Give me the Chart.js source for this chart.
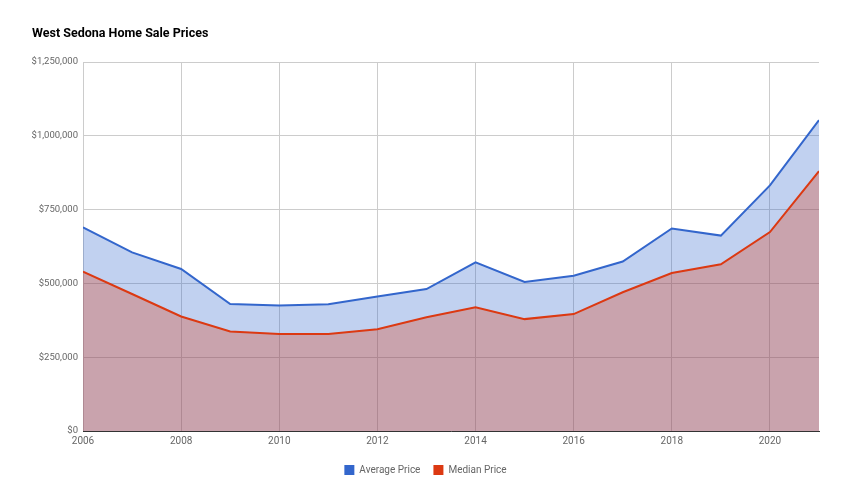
<!DOCTYPE html>
<html>
<head>
<meta charset="utf-8">
<script src="https://cdn.jsdelivr.net/npm/chart.js@4"></script>
<style>
  html, body { margin: 0; padding: 0; background: #fff; }
  #wrap { width: 850px; height: 500px; }
</style>
</head>
<body>
<div id="wrap"><canvas id="c" width="850" height="500"></canvas></div>
<script>
const years = [2006, 2007, 2008, 2009, 2010, 2011, 2012, 2013, 2014, 2015, 2016, 2017, 2018, 2019, 2020, 2021];
const averagePrice = [690000, 605000, 549000, 430000, 425000, 429000, 456000, 481000, 571000, 505000, 526000, 574000, 686000, 662000, 832000, 1053000];
const medianPrice = [540000, 464000, 388000, 337000, 329000, 329000, 345000, 385000, 419000, 379000, 396000, 470000, 535000, 565000, 674000, 880000];
const xTickValues = [2006, 2008, 2010, 2012, 2014, 2016, 2018, 2020];
const yTickValues = [0, 250000, 500000, 750000, 1000000, 1250000];

const toPoints = (arr) => arr.map((v, i) => ({ x: years[i], y: v }));
const FONT = 'Roboto';

new Chart(document.getElementById('c'), {
  type: 'line',
  data: {
    datasets: [
      {
        label: 'Median Price',
        data: toPoints(medianPrice),
        borderColor: '#dc3912',
        backgroundColor: 'rgba(220,57,18,0.3)',
        fill: 'origin',
        borderWidth: 2,
        pointRadius: 0,
        tension: 0
      },
      {
        label: 'Average Price',
        data: toPoints(averagePrice),
        borderColor: '#3366cc',
        backgroundColor: 'rgba(51,102,204,0.3)',
        fill: 'origin',
        borderWidth: 2,
        pointRadius: 0,
        tension: 0
      }
    ]
  },
  options: {
    responsive: false,
    animation: false,
    devicePixelRatio: 1,
    layout: { padding: { left: 32, right: 31, top: 0, bottom: 15 } },
    plugins: {
      title: {
        display: true,
        text: 'West Sedona Home Sale Prices',
        align: 'start',
        color: '#000',
        font: { family: FONT, size: 12.5, weight: 'bold' },
        padding: { top: 26, bottom: 21 }
      },
      legend: {
        position: 'bottom',
        reverse: true,
        labels: {
          boxWidth: 10,
          boxHeight: 10,
          padding: 13,
          color: '#666',
          font: { family: FONT, size: 10 },
          generateLabels: (chart) => {
            const items = Chart.defaults.plugins.legend.labels.generateLabels(chart);
            items.forEach(it => { it.fillStyle = it.strokeStyle; it.lineWidth = 0; });
            return items;
          }
        }
      },
      tooltip: { enabled: false }
    },
    scales: {
      x: {
        type: 'linear',
        min: 2006,
        max: 2021,
        afterBuildTicks: (scale) => { scale.ticks = xTickValues.map(v => ({ value: v })); },
        afterFit: (scale) => { scale.height = 21; },
        ticks: {
          color: '#666',
          font: { family: FONT, size: 10 },
          padding: 4,
          maxRotation: 0,
          callback: (v) => String(v)
        },
        grid: { color: '#ccc', drawTicks: false },
        border: { display: true, color: '#333', width: 1 }
      },
      y: {
        min: 0,
        max: 1250000,
        afterBuildTicks: (scale) => { scale.ticks = yTickValues.map(v => ({ value: v })); },
        afterFit: (scale) => { scale.width = 51; },
        ticks: {
          color: '#666',
          font: { family: FONT, size: 9.5 },
          padding: 5,
          callback: (v) => '$' + Number(v).toLocaleString('en-US')
        },
        grid: { color: '#ccc', drawTicks: false },
        border: { display: false }
      }
    }
  }
});
</script>
</body>
</html>
